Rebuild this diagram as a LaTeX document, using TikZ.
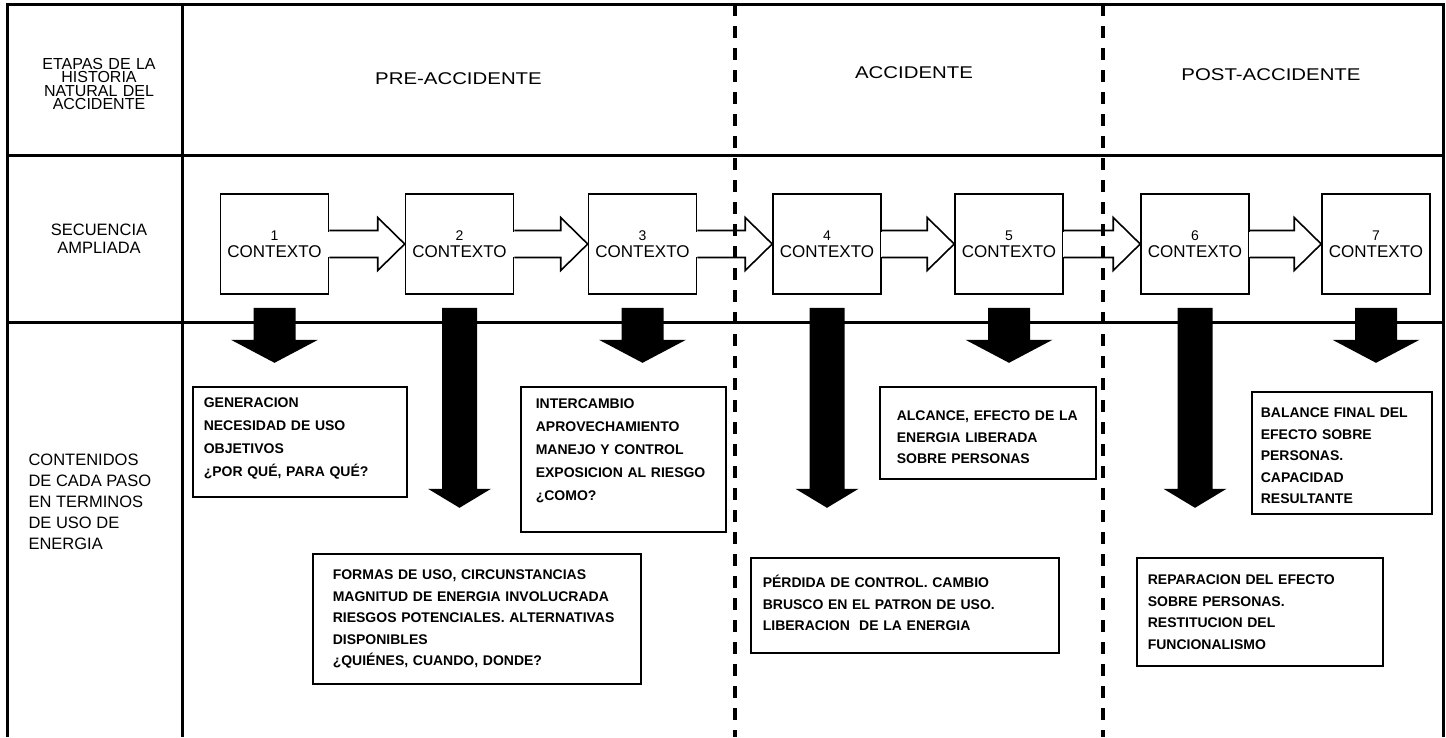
\documentclass[tikz,border=0pt]{standalone}
\usepackage{fontspec}
\setmainfont{Liberation Sans}
\newfontfamily\stagefont{Liberation Sans}[FakeStretch=1.2]
\usetikzlibrary{calc}

\begin{document}
\begin{tikzpicture}[x=1pt,y=-1pt,
	frame/.style={line width=3pt},
	phase/.style={line width=3.5pt, dash pattern=on 12pt off 10pt},
	ctx/.style={draw, line width=1.6pt, minimum width=108pt, minimum height=100pt, inner sep=0pt, align=center, font=\fontsize{17}{16}\selectfont},
	info/.style={draw, line width=1.6pt, anchor=north west, align=left, inner ysep=0pt, font=\fontsize{14}{21.5}\selectfont\bfseries},
	head/.style={align=center, font=\fontsize{17}{17}\stagefont}]
\useasboundingbox (0,0) rectangle (1446,737);
% table frame
\draw[frame] (7,737) -- (7,4) -- (1443,4) -- (1443,737);
\draw[frame] (182,4) -- (182,737);
\draw[frame] (7,155) -- (1443,155);
\draw[frame] (7,322) -- (1443,322);
% row labels
\node[text width=150pt, align=center, font=\fontsize{16}{13.6}\selectfont] (etapas) at (99,84) {ETAPAS DE LA\\HISTORIA\\NATURAL DEL\\ACCIDENTE};
\node[align=center, font=\fontsize{16.5}{18}\selectfont] (secuencia) at (99,239) {SECUENCIA\\AMPLIADA};
\node[anchor=west, align=left, font=\fontsize{16.5}{21}\selectfont] (contenidos) at (25,502) {CONTENIDOS\\DE CADA PASO\\EN TERMINOS\\DE USO DE\\ENERGIA};
% stages
\node[head] (pre) at (458.5,79) {PRE-ACCIDENTE};
\node[head] (acc) at (914,73) {ACCIDENTE};
\node[head] (post) at (1271,75) {POST-ACCIDENTE};
% sequence
\node[ctx] (s1) at (274.5,244) {{\fontsize{14}{14}\selectfont 1}\\[1pt]CONTEXTO};
\node[ctx] (s2) at (459.5,244) {{\fontsize{14}{14}\selectfont 2}\\[1pt]CONTEXTO};
\node[ctx] (s3) at (642.5,244) {{\fontsize{14}{14}\selectfont 3}\\[1pt]CONTEXTO};
\node[ctx] (s4) at (827,244) {{\fontsize{14}{14}\selectfont 4}\\[1pt]CONTEXTO};
\node[ctx] (s5) at (1009,244) {{\fontsize{14}{14}\selectfont 5}\\[1pt]CONTEXTO};
\node[ctx] (s6) at (1195,244) {{\fontsize{14}{14}\selectfont 6}\\[1pt]CONTEXTO};
\node[ctx] (s7) at (1376,244) {{\fontsize{14}{14}\selectfont 7}\\[1pt]CONTEXTO};
\foreach \a/\b in {s1/s2,s2/s3,s3/s4,s4/s5,s5/s6,s6/s7} {
	\fill[white] ([xshift=-1pt,yshift=-12.5pt]\a.east) rectangle ([xshift=1pt,yshift=12.5pt]\a.east);
	\draw[line width=1.6pt, line join=miter] ([yshift=13.5pt]\a.east) -- ([xshift=-27pt,yshift=13.5pt]\b.west) -- ([xshift=-27pt,yshift=26.5pt]\b.west) -- (\b.west) -- ([xshift=-27pt,yshift=-26.5pt]\b.west) -- ([xshift=-27pt,yshift=-13.5pt]\b.west) -- ([yshift=-13.5pt]\a.east);
}
% energy arrows
\foreach \i in {1,3,5,7}
	\fill ([xshift=-21pt,yshift=-13pt]s\i.south) -- ++(42,0) -- ++(0,32) -- ++(22.5,0) -- ++(-43.5,23) -- ++(-43.5,-23) -- ++(22.5,0) -- cycle;
\foreach \i in {2,4,6}
	\fill ([xshift=-17.5pt,yshift=-13pt]s\i.south) -- ++(35,0) -- ++(0,181) -- ++(14,0) -- ++(-31.5,19) -- ++(-31.5,-19) -- ++(14,0) -- cycle;
% contents
\node[info, inner xsep=11pt, text width=192pt, text height=21pt, text depth=89pt, font=\fontsize{14}{23}\selectfont\bfseries] (c1) at (192,386) {GENERACION\\NECESIDAD DE USO\\OBJETIVOS\\¿POR QUÉ, PARA QUÉ?};
\node[info, inner xsep=20pt, text width=288pt, text height=26pt, text depth=104pt] (c2) at (312,553) {FORMAS DE USO, CIRCUNSTANCIAS\\MAGNITUD DE ENERGIA INVOLUCRADA\\RIESGOS POTENCIALES. ALTERNATIVAS\\DISPONIBLES\\¿QUIÉNES, CUANDO, DONDE?};
\node[info, inner xsep=15pt, text width=175pt, text height=22pt, text depth=123pt, font=\fontsize{14}{23}\selectfont\bfseries] (c3) at (520,386) {INTERCAMBIO\\APROVECHAMIENTO\\MANEJO Y CONTROL\\EXPOSICION AL RIESGO\\¿COMO?};
\node[info, inner xsep=12pt, text width=284pt, text height=30pt, text depth=65pt] (c4) at (750,557) {PÉRDIDA DE CONTROL. CAMBIO\\BRUSCO EN EL PATRON DE USO.\\LIBERACION\ \ DE LA ENERGIA};
\node[info, inner xsep=17pt, text width=182pt, text height=34pt, text depth=58pt] (c5) at (879,386) {ALCANCE, EFECTO DE LA\\ENERGIA LIBERADA\\SOBRE PERSONAS};
\node[info, inner xsep=11pt, text width=224pt, text height=27pt, text depth=81pt] (c6) at (1136,557) {REPARACION DEL EFECTO\\SOBRE PERSONAS.\\RESTITUCION DEL\\FUNCIONALISMO};
\node[info, inner xsep=9pt, text width=162pt, text height=26pt, text depth=96pt] (c7) at (1251,391) {BALANCE FINAL DEL\\EFECTO SOBRE\\PERSONAS.\\CAPACIDAD\\RESULTANTE};
% stage borders
\draw[phase] (735,4) -- (735,737);
\draw[phase] (1103,4) -- (1103,737);
\end{tikzpicture}
\end{document}
